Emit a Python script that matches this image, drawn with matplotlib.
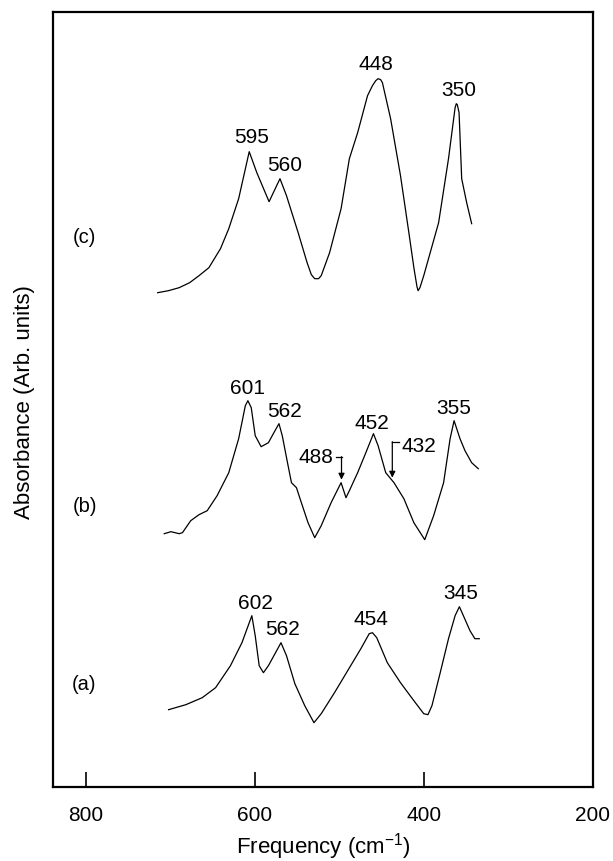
import matplotlib
matplotlib.use("Agg")
import matplotlib.pyplot as plt

plt.rcParams['font.family'] = ['Liberation Sans', 'DejaVu Sans']

# spectrum (c)
freq_c = [714.8, 702.0, 689.4, 677.0, 665.9, 654.2, 640.5, 630.7, 619.0, 606.5,
          597.5, 583.0, 570.1, 562.4, 548.6, 538.0, 533.0, 529.0, 524.5, 521.3,
          511.4, 497.8, 488.0, 478.2, 466.5, 460.7, 456.8, 454.0, 451.0, 448.9,
          439.2, 427.5, 417.6, 411.5, 408.0, 406.7, 404.5, 400.0, 382.4, 370.7,
          362.9, 361.5, 360.3, 358.2, 355.1, 349.2, 343.3]
abs_c = [4.94, 4.96, 4.99, 5.04, 5.11, 5.19, 5.38, 5.58, 5.88, 6.35,
         6.14, 5.85, 6.08, 5.91, 5.54, 5.24, 5.12, 5.08, 5.08, 5.11,
         5.34, 5.78, 6.28, 6.54, 6.91, 7.01, 7.06, 7.08, 7.07, 7.04,
         6.68, 6.11, 5.54, 5.18, 5.00, 4.96, 4.99, 5.11, 5.64, 6.28,
         6.79, 6.83, 6.82, 6.74, 6.08, 5.84, 5.63]

# spectrum (b)
freq_b = [707.0, 699.1, 689.4, 685.5, 675.7, 665.9, 656.2, 644.5, 630.7, 619.0,
          611.1, 608.1, 604.1, 599.4, 592.4, 583.8, 576.0, 571.3, 567.4, 561.2,
          556.5, 550.6, 544.8, 536.9, 529.0, 521.3, 509.6, 497.8, 492.0, 488.0,
          478.2, 468.5, 459.5, 454.0, 445.0, 435.2, 423.5, 411.7, 398.8, 388.3,
          376.5, 368.8, 364.1, 357.1, 351.2, 343.3, 335.5]
abs_b = [2.53, 2.55, 2.53, 2.54, 2.66, 2.72, 2.76, 2.91, 3.14, 3.48,
         3.81, 3.86, 3.79, 3.51, 3.40, 3.44, 3.56, 3.63, 3.51, 3.24,
         3.04, 2.99, 2.84, 2.64, 2.49, 2.61, 2.84, 3.04, 2.89, 2.96,
         3.14, 3.34, 3.53, 3.41, 3.14, 3.04, 2.88, 2.64, 2.47, 2.71,
         3.04, 3.48, 3.66, 3.48, 3.36, 3.24, 3.18]

# spectrum (a)
freq_a = [701.9, 681.5, 662.1, 646.3, 628.7, 615.1, 603.4, 599.4, 594.7, 589.7,
          583.8, 576.0, 568.9, 562.4, 552.5, 540.8, 529.9, 521.3, 505.6, 490.0,
          474.4, 464.5, 460.7, 455.6, 443.1, 427.5, 411.7, 400.0, 395.0, 390.3,
          380.5, 370.7, 362.9, 357.8, 353.1, 345.3, 339.5, 334.3]
abs_a = [0.77, 0.82, 0.89, 0.99, 1.21, 1.44, 1.71, 1.51, 1.21, 1.14,
         1.21, 1.33, 1.44, 1.31, 1.03, 0.81, 0.64, 0.73, 0.94, 1.16,
         1.38, 1.53, 1.54, 1.49, 1.24, 1.04, 0.86, 0.73, 0.72, 0.81,
         1.14, 1.48, 1.71, 1.80, 1.71, 1.56, 1.48, 1.48]

# peak labels: text, x, y
peaks_c = [("595", 604, 6.50), ("560", 565, 6.22), ("448", 456, 7.23), ("350", 358, 6.97)]
peaks_b = [("601", 609, 3.99), ("562", 565, 3.76), ("452", 461, 3.64), ("355", 364, 3.79)]
peaks_a = [("602", 599, 1.84), ("562", 567, 1.58), ("454", 462, 1.68), ("345", 356, 1.94)]

fig = plt.figure(figsize=(6.13, 8.62), dpi=100)
ax = fig.add_axes([0.086, 0.0862, 0.881, 0.8991])

for f, a in [(freq_c, abs_c), (freq_b, abs_b), (freq_a, abs_a)]:
    ax.plot(f, a, color='black', lw=0.9)

for lst in [peaks_c, peaks_b, peaks_a]:
    for txt, x, y in lst:
        ax.text(x, y, txt, ha='center', va='center', fontsize=15)

# side labels
ax.text(802, 5.50, "(c)", ha='center', va='center', fontsize=14.5)
ax.text(801, 2.81, "(b)", ha='center', va='center', fontsize=14.5)
ax.text(802, 1.03, "(a)", ha='center', va='center', fontsize=14.5)

# arrows for weak bands in (b)
ax.text(527, 3.30, "488", ha='center', va='center', fontsize=15)
ax.plot([504, 497.3], [3.294, 3.294], color='black', lw=0.9)
ax.annotate("", xy=(497.3, 3.07), xytext=(497.3, 3.30),
            arrowprops=dict(arrowstyle='-|>', color='black', lw=0.9,
                            mutation_scale=9, shrinkA=0, shrinkB=0))
ax.text(406, 3.41, "432", ha='center', va='center', fontsize=15)
ax.plot([437.2, 429.3], [3.444, 3.444], color='black', lw=0.9)
ax.annotate("", xy=(437.2, 3.09), xytext=(437.2, 3.45),
            arrowprops=dict(arrowstyle='-|>', color='black', lw=0.9,
                            mutation_scale=9, shrinkA=0, shrinkB=0))

ax.set_xlim(839, 200)
ax.set_ylim(0, 7.75)
ax.set_xticks([800, 600, 400, 200])
ax.set_yticks([])
ax.tick_params(axis='x', direction='in', length=11, width=1.2, pad=13, labelsize=15)
for s in ax.spines.values():
    s.set_linewidth(1.6)

fig.text(0.527, 1 - 847 / 862, r'Frequency (cm$^{\mathregular{-1}}$)',
         ha='center', va='center', fontsize=16)
fig.text(25 / 613, 0.533, "Absorbance (Arb. units)", rotation=90,
         ha='center', va='center', fontsize=16)

fig.savefig("out.png", dpi=100)
